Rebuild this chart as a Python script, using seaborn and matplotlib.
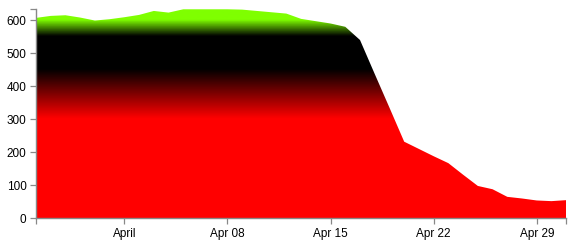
import numpy as np
import pandas as pd
import matplotlib
matplotlib.use("Agg")
import matplotlib.pyplot as plt
import matplotlib.dates as mdates
from matplotlib.colors import LinearSegmentedColormap
import seaborn as sns

# ---- data ----
start_date = "2012-03-26"
end_date = "2012-05-01"
values = [607, 613, 615, 608, 599, 603, 609, 616, 628, 623,
          633, 633, 633, 633, 632, 628, 624, 620, 604, 597,
          590, 580, 540, 437, 335, 232, 210, 188, 167, 132,
          98, 88, 65, 60, 54, 52, 55]
tick_dates = ["2012-04-01", "2012-04-08", "2012-04-15", "2012-04-22", "2012-04-29"]
tick_labels = ["April", "Apr 08", "Apr 15", "Apr 22", "Apr 29"]
y_ticks = [0, 100, 200, 300, 400, 500, 600]
# gradient stops (value, colour)
grad_values = [0, 300, 450, 550, 600]
grad_colors = ["#ff0000", "#ff0000", "#000000", "#000000", "#7fff00"]

dates = pd.date_range(start_date, end_date, freq="D")
df = pd.DataFrame({"date": dates, "value": values})

sns.set_style("ticks")
plt.rcParams["font.family"] = ["Liberation Sans", "DejaVu Sans"]

fig = plt.figure(figsize=(5.76, 2.46), dpi=100)
ax = fig.add_axes([0.0625, 0.1126, 0.9205, 0.8496])

sns.lineplot(data=df, x="date", y="value", ax=ax, linewidth=0, legend=False)

ymax = max(values)
poly = ax.fill_between(df["date"], 0, df["value"], facecolor="none", edgecolor="none")

top = max(ymax, grad_values[-1])
pos = [v / top for v in grad_values] + [1.0]
cols = grad_colors + [grad_colors[-1]]
cmap = LinearSegmentedColormap.from_list("grad", list(zip(pos, cols)))
x0 = mdates.date2num(dates[0])
x1 = mdates.date2num(dates[-1])
grad = np.linspace(0, 1, 600).reshape(-1, 1)
im = ax.imshow(grad, origin="lower", extent=[x0, x1, 0, top], aspect="auto",
               cmap=cmap, interpolation="bilinear", zorder=1)
im.set_clip_path(poly.get_paths()[0], ax.transData)

ax.set_xlim(dates[0], dates[-1])
ax.set_ylim(0, ymax)

ax.set_xticks(pd.to_datetime(tick_dates))
ax.set_xticklabels(tick_labels)
ax.set_xticks([dates[0], dates[-1]], minor=True)
ax.set_yticks(y_ticks)
ax.set_yticklabels([str(v) for v in y_ticks])
ax.set_yticks([ymax], minor=True)
ax.set_xlabel("")
ax.set_ylabel("")

for s in ["top", "right"]:
    ax.spines[s].set_visible(False)
for s in ["left", "bottom"]:
    ax.spines[s].set_color("#888888")
    ax.spines[s].set_linewidth(1.0)

ax.tick_params(which="both", direction="out", length=4.3, width=0.9,
               color="#888888", labelcolor="#000000", labelsize=8.5, pad=2.5)

fig.savefig("out.png", dpi=100)
